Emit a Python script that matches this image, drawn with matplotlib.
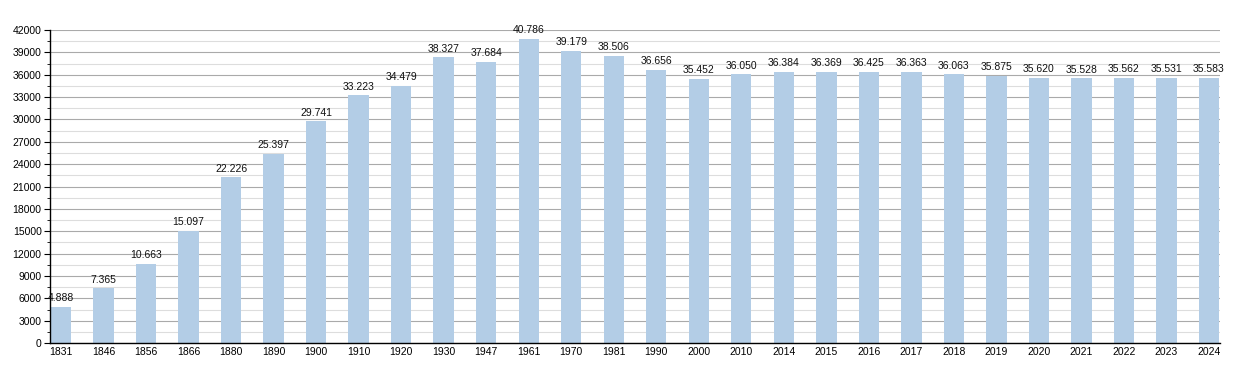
import numpy as np
import matplotlib.pyplot as plt
from matplotlib.ticker import MultipleLocator

plt.rcParams['font.family'] = ['Liberation Sans', 'DejaVu Sans']

years = ['1831', '1846', '1856', '1866', '1880', '1890', '1900', '1910', '1920', '1930',
         '1947', '1961', '1970', '1981', '1990', '2000', '2010', '2014', '2015', '2016',
         '2017', '2018', '2019', '2020', '2021', '2022', '2023', '2024']
population = [4888, 7365, 10663, 15097, 22226, 25397, 29741, 33223, 34479, 38327,
              37684, 40786, 39179, 38506, 36656, 35452, 36050, 36384, 36369, 36425,
              36363, 36063, 35875, 35620, 35528, 35562, 35531, 35583]

fig = plt.figure(figsize=(12.5, 3.73), dpi=100)
ax = fig.add_axes([0.04, 0.080, 0.936, 0.8396])

x = np.arange(len(years))
ax.bar(x, population, width=0.48, color='#b3cde6', zorder=2)

for xi, v in zip(x, population):
    lbl = f'{v:,}'.replace(',', '.')
    ax.text(xi, v + 500, lbl, ha='center', va='bottom', fontsize=7.5, color='#111111', zorder=3)

ax.set_xlim(-0.26, len(years) - 1 + 0.26)
ax.set_ylim(0, 42000)
ax.yaxis.set_major_locator(MultipleLocator(3000))
ax.yaxis.set_minor_locator(MultipleLocator(1500))
ax.grid(which='major', axis='y', color='#aaaaaa', linewidth=0.8, zorder=0)
ax.grid(which='minor', axis='y', color='#dddddd', linewidth=0.8, zorder=0)
ax.set_xticks(x)
ax.set_xticklabels(years)
ax.tick_params(axis='x', length=0, labelsize=7.5, pad=3)
ax.tick_params(axis='y', which='major', length=4, labelsize=7.5, pad=2)
ax.tick_params(axis='y', which='minor', length=2)
for s in ['top', 'right']:
    ax.spines[s].set_visible(False)
ax.spines['left'].set_linewidth(1)
ax.spines['bottom'].set_linewidth(1)

fig.savefig('out.png', dpi=100)
